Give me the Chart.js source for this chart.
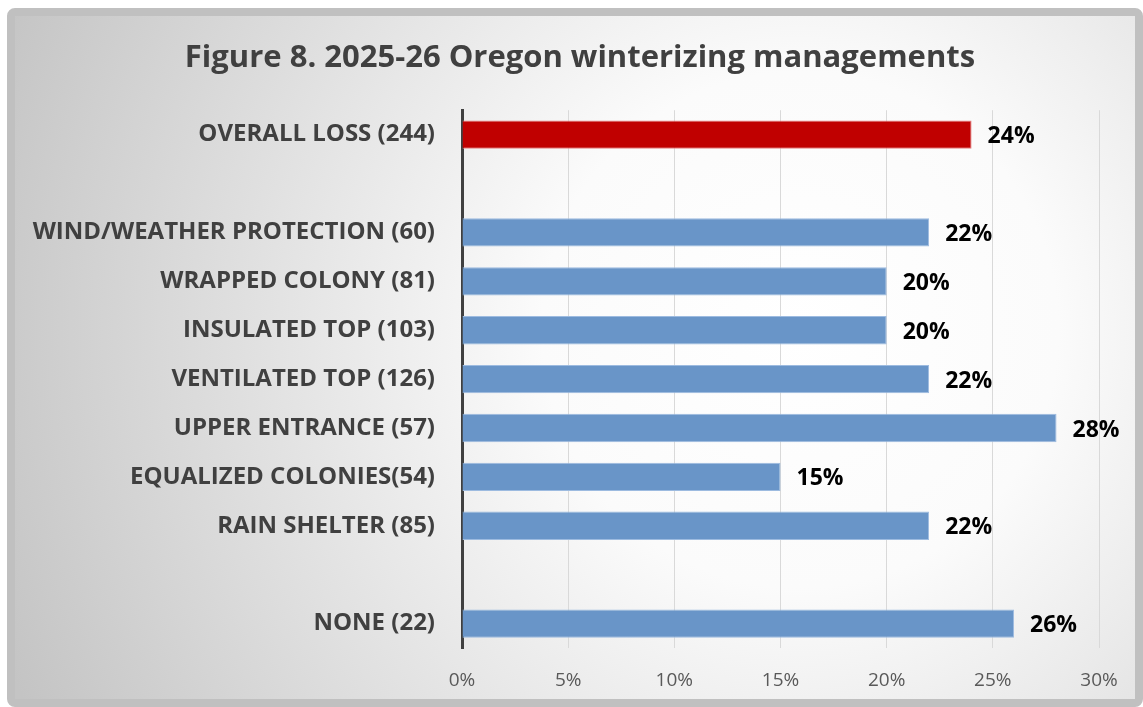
<!DOCTYPE html>
<html>
<head>
<meta charset="utf-8">
<script src="https://cdn.jsdelivr.net/npm/chart.js@4"></script>
<style>
  html, body { margin: 0; padding: 0; background: #fff; }
  #wrap { width: 1143px; height: 707px; position: relative; }
</style>
</head>
<body>
<div id="wrap"><canvas id="chart"></canvas></div>
<script>
'use strict';

const categories = [
    'OVERALL LOSS (244)',
    '',
    'WIND/WEATHER PROTECTION (60)',
    'WRAPPED COLONY (81)',
    'INSULATED TOP (103)',
    'VENTILATED TOP (126)',
    'UPPER ENTRANCE (57)',
    'EQUALIZED COLONIES(54)',
    'RAIN SHELTER (85)',
    '',
    'NONE (22)'
];
const lossPct = [24, null, 22, 20, 20, 22, 28, 15, 22, null, 26];
const xTicks = [0, 5, 10, 15, 20, 25, 30];

const red = "#c00000";
const blue = "#6995c8";
const labelFont = "'Open Sans', Lato, sans-serif";

var barColors = categories.map((c, i) => i === 0 ? red : blue);
var edgeColors = categories.map((c, i) => i === 0 ? "#e58080" : "#9dbbe0");

// frame + soft radial background
const backdrop = {
    id: 'backdrop',
    afterLayout(chart) {
        // nudge the title box right so its centre sits where the original does
        chart.titleBlock.left += 41;
    },
    beforeDraw(chart) {
        var ctx = chart.ctx;
        ctx.save();
        ctx.fillStyle = "#ffffff";
        ctx.fillRect(0, 0, chart.width, chart.height);
        var g = ctx.createRadialGradient(800, 330, 0, 800, 330, 860);
        g.addColorStop(0, "#ffffff");
        g.addColorStop(0.3, "#fbfbfb");
        g.addColorStop(1, "#c4c4c4");
        ctx.fillStyle = g;
        ctx.beginPath();
        ctx.roundRect(11, 12, chart.width - 15, chart.height - 16, 4);
        ctx.fill();
        ctx.strokeStyle = "#c0c0c0";
        ctx.lineWidth = 8;
        ctx.stroke();
        ctx.restore();
    }
};

// percentage labels after each bar
const valueLabels = {
    id: 'valueLabels',
    afterDatasetsDraw(chart) {
        var ctx = chart.ctx;
        var meta = chart.getDatasetMeta(0);
        ctx.save();
        ctx.font = "bold 23px " + labelFont;
        ctx.fillStyle = "#000000";
        ctx.textAlign = "left";
        ctx.textBaseline = "middle";
        meta.data.forEach((bar, i) => {
            var v = lossPct[i];
            if (v == null) return;
            ctx.fillText(v + "%", bar.x + 16, bar.y + 2);
        });
        ctx.restore();
    }
};

const ctx = document.getElementById('chart').getContext('2d');
var chart = new Chart(ctx, {
    type: 'bar',
    data: {
        labels: categories,
        datasets: [{
            data: lossPct,
            backgroundColor: barColors,
            borderColor: edgeColors,
            borderWidth: 1,
            categoryPercentage: 1,
            barPercentage: 0.58
        }]
    },
    options: {
        indexAxis: 'y',
        responsive: true,
        maintainAspectRatio: false,
        animation: false,
        layout: { padding: { left: 20, right: 44, top: 0, bottom: 0 } },
        plugins: {
            legend: { display: false },
            tooltip: { enabled: false },
            title: {
                display: true,
                text: 'Figure 8. 2025-26 Oregon winterizing managements',
                color: "#404040",
                font: { family: labelFont, size: 31, weight: 'bold' },
                padding: { top: 40, bottom: 33 },
                lineHeight: 1.2
            }
        },
        scales: {
            x: {
                min: 0,
                max: 30,
                afterBuildTicks: s => { s.ticks = xTicks.map(v => ({ value: v })); },
                afterFit: s => { s.height = 59; },
                grid: { color: "#d9d9d9", lineWidth: 1, drawTicks: false },
                border: { display: false },
                ticks: {
                    padding: 21,
                    color: "#595959",
                    font: { family: labelFont, size: 19 },
                    callback: v => v + "%"
                }
            },
            y: {
                afterFit: s => { s.width = 442; },
                grid: { display: false, drawTicks: false },
                border: { display: true, color: "#404040", width: 3 },
                ticks: {
                    padding: 27,
                    autoSkip: false,
                    color: "#404040",
                    font: { family: labelFont, size: 24, weight: 'bold' }
                }
            }
        }
    },
    plugins: [backdrop, valueLabels]
});
</script>
</body>
</html>
